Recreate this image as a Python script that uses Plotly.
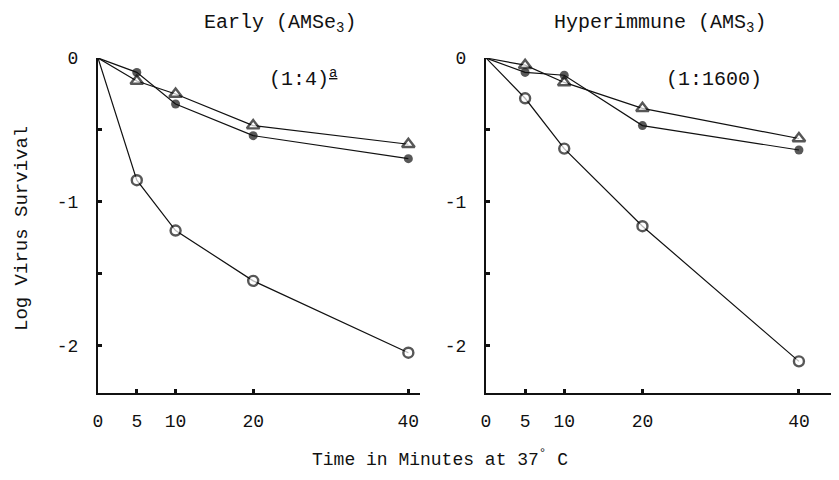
import plotly.graph_objects as go
from plotly.subplots import make_subplots

# page body adds an 8px margin, so the figure is drawn 16px smaller
OFF = 8
W, H = 839 - 2 * OFF, 480 - 2 * OFF

# time points (minutes at 37 C)
minutes = [0, 5, 10, 20, 40]

# Early (AMSe3) panel, log virus survival
early_open = [0, -0.85, -1.20, -1.55, -2.05]
early_filled = [0, -0.10, -0.32, -0.54, -0.70]
early_triangle = [0, -0.16, -0.25, -0.47, -0.60]

# Hyperimmune (AMS3) panel
hyper_open = [0, -0.28, -0.63, -1.17, -2.11]
hyper_filled = [0, -0.10, -0.12, -0.47, -0.64]
hyper_triangle = [0, -0.05, -0.17, -0.35, -0.56]

y_tickvals = [0, -0.5, -1, -1.5, -2]
y_ticktext = ["0", "", "-1", "", "-2"]
x_tickvals = [0, 5, 10, 20, 40]
x_ticktext = ["0", "5", "10", "20", "40"]

FONT = "Liberation Mono, Courier New, monospace"
INK = "#111"


def fx(x):
    return (x - OFF) / W


def fy(y):
    return 1 - (y - OFF) / H


def add_series(fig, col, ys, symbol, fill, size):
    sizes = [0] + [size] * (len(ys) - 1)
    fig.add_trace(go.Scatter(
        x=minutes, y=ys, mode="lines+markers",
        line=dict(color=INK, width=1.2),
        marker=dict(symbol=symbol, size=sizes,
                    color=INK if fill else "white",
                    line=dict(color=INK, width=0 if fill else 2.4)),
        cliponaxis=False, showlegend=False,
    ), row=1, col=col)


fig = make_subplots(rows=1, cols=2, horizontal_spacing=0.05)

add_series(fig, 1, early_open, "circle", False, 10)
add_series(fig, 1, early_filled, "circle", True, 9)
add_series(fig, 1, early_triangle, "triangle-up", False, 11)
add_series(fig, 2, hyper_open, "circle", False, 10)
add_series(fig, 2, hyper_filled, "circle", True, 9)
add_series(fig, 2, hyper_triangle, "triangle-up", False, 11)

axis_common = dict(showline=True, linecolor=INK, linewidth=2, showgrid=False,
                   zeroline=False, ticks="inside", ticklen=4, tickwidth=3,
                   tickcolor=INK, automargin=False,
                   tickfont=dict(family=FONT, size=18, color=INK))

fig.update_xaxes(axis_common, tickvals=x_tickvals, ticktext=x_ticktext, ticklabelstandoff=10)
fig.update_xaxes(domain=[fx(98), fx(420)], range=[0, 41.5], row=1, col=1)
fig.update_xaxes(domain=[fx(486), 1.0], range=[0, 44.1], row=1, col=2)
fig.update_yaxes(axis_common, tickvals=y_tickvals, ticktext=y_ticktext,
                 range=[-2.33, 0], domain=[fy(393), fy(58)], ticklabelstandoff=14)

annots = [
    (280, 24, "Early (AMSe<sub>3</sub>)", 20),
    (660, 24, "Hyperimmune (AMS<sub>3</sub>)", 20),
    (303, 78, "(1:4)<sup><u>a</u></sup>", 20),
    (714, 80, "(1:1600)", 20),
    (440, 458, "Time in Minutes at 37<sup>°</sup> C", 18),
]
for x, y, t, s in annots:
    fig.add_annotation(x=fx(x), y=fy(y), xref="paper", yref="paper", text=t,
                       xanchor="center", yanchor="middle", showarrow=False,
                       font=dict(family=FONT, size=s, color=INK))

fig.add_annotation(x=fx(22), y=fy(229), xref="paper", yref="paper",
                   text="Log Virus Survival", textangle=-90, showarrow=False,
                   xanchor="center", yanchor="middle",
                   font=dict(family=FONT, size=19, color=INK))

fig.update_layout(
    template="none",
    width=W, height=H,
    margin=dict(l=0, r=0, t=0, b=0),
    paper_bgcolor="white", plot_bgcolor="white",
    font=dict(family=FONT, color=INK),
)

fig.write_html("out.html")
